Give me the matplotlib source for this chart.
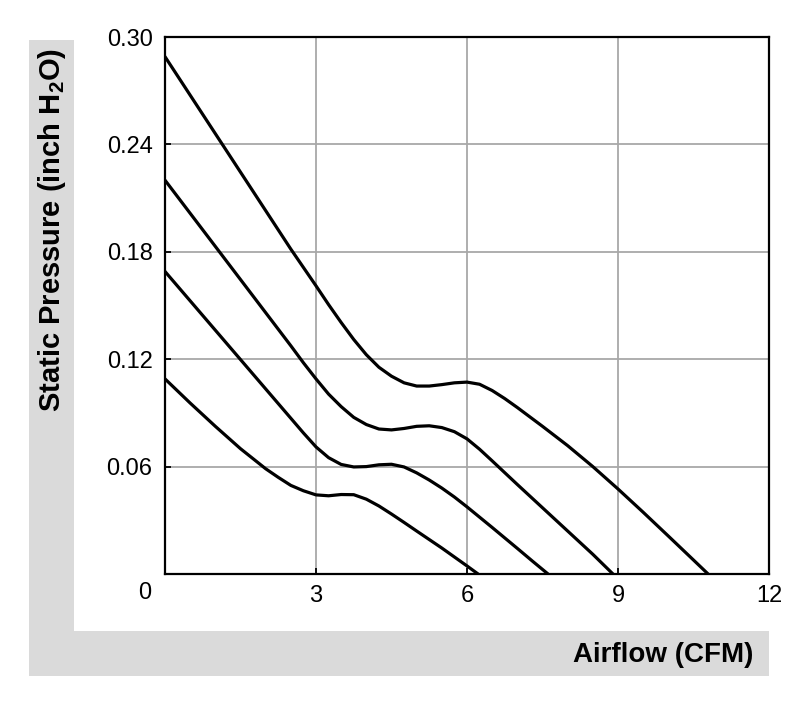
import numpy as np
from matplotlib import pyplot as plt
from matplotlib.patches import Rectangle

plt.rcParams['font.family'] = ['Liberation Sans', 'DejaVu Sans']
plt.rcParams['mathtext.fontset'] = 'custom'
plt.rcParams['mathtext.bf'] = 'Liberation Sans:bold'
plt.rcParams['mathtext.rm'] = 'Liberation Sans'

# fan curves (CFM, inch H2O)
x1 = [0, 1.0, 2.0, 2.5, 3.0, 3.25, 3.5, 3.75, 4.0, 4.25, 4.5, 4.75, 5.0, 5.25, 5.5, 5.75,
      6.0, 6.25, 6.5, 6.75, 7.0, 7.5, 8.0, 8.5, 9.0, 9.5, 10.0, 10.5, 10.79]
y1 = [0.289, 0.246, 0.203, 0.1815, 0.161, 0.1505, 0.1405, 0.131, 0.1225, 0.1155, 0.1105,
      0.1068, 0.1050, 0.1050, 0.1058, 0.1068, 0.1072, 0.1060, 0.1025, 0.098, 0.0930,
      0.0825, 0.0717, 0.0600, 0.0475, 0.0345, 0.0212, 0.0078, 0.0]

x2 = [0, 1.0, 2.0, 2.5, 2.75, 3.0, 3.25, 3.5, 3.75, 4.0, 4.25, 4.5, 4.75, 5.0, 5.25, 5.5,
      5.75, 6.0, 6.25, 6.5, 6.75, 7.0, 7.5, 8.0, 8.5, 8.9]
y2 = [0.220, 0.183, 0.146, 0.1275, 0.118, 0.109, 0.1005, 0.0935, 0.0875, 0.0835, 0.0810,
      0.0805, 0.0813, 0.0825, 0.0828, 0.0818, 0.0795, 0.0755, 0.0697, 0.0632, 0.0566,
      0.0500, 0.0370, 0.0240, 0.0110, 0.0]

x3 = [0, 1.0, 2.0, 2.5, 2.75, 3.0, 3.25, 3.5, 3.75, 4.0, 4.25, 4.5, 4.75, 5.0, 5.25, 5.5,
      5.75, 6.0, 6.5, 7.0, 7.3, 7.61]
y3 = [0.169, 0.1362, 0.1034, 0.087, 0.0788, 0.071, 0.0650, 0.0612, 0.0598, 0.0600, 0.0610,
      0.0613, 0.0598, 0.0565, 0.0525, 0.048, 0.043, 0.0375, 0.026, 0.0143, 0.0072, 0.0]

x4 = [0, 0.5, 1.0, 1.5, 2.0, 2.25, 2.5, 2.75, 3.0, 3.25, 3.5, 3.75, 4.0, 4.25, 4.5, 4.75,
      5.0, 5.5, 6.0, 6.22]
y4 = [0.109, 0.0955, 0.0825, 0.070, 0.0588, 0.0540, 0.0495, 0.0465, 0.0442, 0.0437, 0.0444,
      0.0443, 0.0418, 0.0380, 0.0335, 0.0288, 0.0240, 0.0145, 0.0045, 0.0]

xticks = [3, 6, 9, 12]
yticks = [0.06, 0.12, 0.18, 0.24, 0.30]

fig = plt.figure(figsize=(8, 7.01), dpi=100)

# grey L-shaped band behind the axis titles
band = '#dadada'
fig.patches.append(Rectangle((29/800, 25/701), 45/800, 636/701, transform=fig.transFigure,
                             facecolor=band, edgecolor='none', zorder=0))
fig.patches.append(Rectangle((29/800, 25/701), 740/800, 45/701, transform=fig.transFigure,
                             facecolor=band, edgecolor='none', zorder=0))

ax = fig.add_axes([165/800, 127/701, 604/800, 537/701])
for xs, ys in [(x1, y1), (x2, y2), (x3, y3), (x4, y4)]:
    ax.plot(xs, ys, color='black', lw=2.3, solid_joinstyle='round',
            solid_capstyle='round', zorder=3)

ax.set_xlim(0, 12)
ax.set_ylim(0, 0.30)
ax.set_xticks(xticks)
ax.set_yticks(yticks)
ax.set_xticklabels([str(t) for t in xticks])
ax.set_yticklabels(['%.2f' % t for t in yticks])
ax.grid(True, color='#a8a8a8', lw=1.3)
ax.tick_params(direction='in', length=4, width=1.3, labelsize=17, pad=8, colors='black')
ax.tick_params(axis='y', pad=9)
for s in ax.spines.values():
    s.set_linewidth(1.6)
ax.text(-0.4, -0.0107, '0', fontsize=17, ha='center', va='center')

fig.text(52/800, 653/701, r'Static Pressure (inch H$_\mathbf{2}$O)', rotation=90,
         fontsize=21, fontweight='bold', ha='center', va='top')
fig.text(753/800, 46/701, 'Airflow (CFM)', fontsize=20, fontweight='bold',
         ha='right', va='center')

plt.savefig('out.png', dpi=100)
